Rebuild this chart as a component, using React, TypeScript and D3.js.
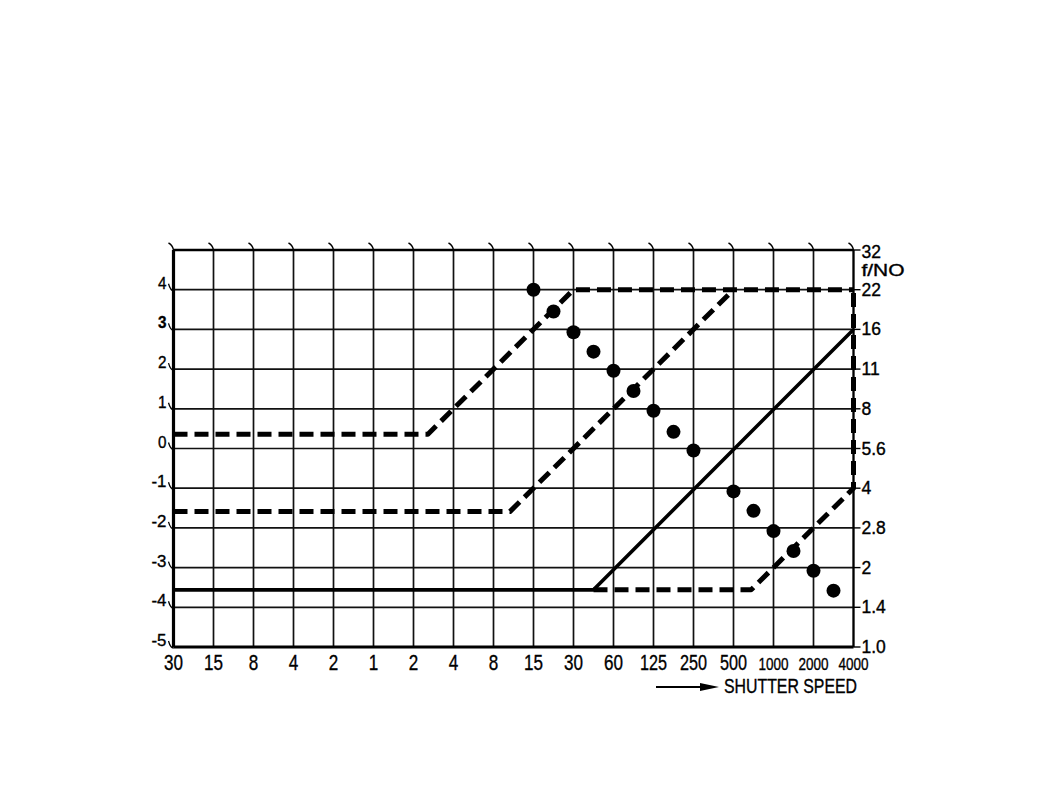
import React from "react";
import * as d3 from "d3";

// Shutter speed columns (seconds on the left, fractions on the right)
const shutterLabels = ["30", "15", "8", "4", "2", "1", "2", "4", "8", "15", "30", "60", "125", "250", "500", "1000", "2000", "4000"];
// Left axis: exposure value ticks
const evTicks = [4, 3, 2, 1, 0, -1, -2, -3, -4, -5];
// Right axis: f-numbers for EV levels 5 .. -5
const fNumberLevels = [5, 4, 3, 2, 1, 0, -1, -2, -3, -4, -5];
const fNumberLabels = ["32", "22", "16", "11", "8", "5.6", "4", "2.8", "2", "1.4", "1.0"];

// Program lines as [column index, EV]
const upperProgram: [number, number][] = [[0, 0.36], [6.36, 0.36], [10, 4], [17, 4]];
const middleProgram: [number, number][] = [[0, -1.59], [8.41, -1.59], [14, 4]];
const lowerProgram: [number, number][] = [[10.5, -3.56], [14.44, -3.56], [17, -1], [17, 4]];
const solidProgram: [number, number][] = [[0, -3.56], [10.5, -3.56], [17, 3]];

// Measured exposure points
const dotIndex = [9, 9.5, 10, 10.5, 11, 11.5, 12, 12.5, 13, 14, 14.5, 15, 15.5, 16, 16.5];
const dotEv = [4, 3.45, 2.93, 2.44, 1.96, 1.45, 0.95, 0.42, -0.05, -1.08, -1.57, -2.08, -2.58, -3.08, -3.58];

const FONT = "'Liberation Sans', Arial, Helvetica, sans-serif";

// Condensed label: squeezed to a fixed width
function Label(props: {
  x: number;
  y: number;
  width?: number;
  size: number;
  anchor?: "start" | "middle" | "end";
  weight?: string;
  children: string;
}) {
  const { x, y, width, size, anchor = "start", weight = "normal", children } = props;
  const fit = width ? { textLength: width, lengthAdjust: "spacingAndGlyphs" } : {};
  return (
    <text
      x={x}
      y={y}
      textAnchor={anchor}
      fontSize={size}
      fontWeight={weight}
      fontFamily={FONT}
      fill="#000"
      stroke="#000"
      strokeWidth={0.35}
      {...fit}
    >
      {children}
    </text>
  );
}

const bottomWidth = (s: string) => (s.length === 1 ? 9.5 : s.length === 2 ? 19 : s.length === 3 ? 27 : 30);

export default function App() {
  const x = d3.scaleLinear().domain([0, 17]).range([173.5, 853.5]);
  const y = d3.scaleLinear().domain([-5, 5]).range([647, 250]);
  const line = d3.line<[number, number]>().x((d) => x(d[0])).y((d) => y(d[1]));
  const cols = d3.range(0, 18);
  const rows = d3.range(-5, 6);
  const left = x(0), right = x(17), top = y(5), bottom = y(-5);

  return (
    <svg
      width={1054}
      height={793}
      viewBox="0 0 1054 793"
      style={{ position: "absolute", left: 0, top: 0, background: "#fff" }}
    >
      <rect width={1054} height={793} fill="#fff" />
      {/* grid */}
      <g stroke="#111" strokeWidth={1.7}>
        {cols.map((c) => (
          <line key={"v" + c} x1={x(c)} x2={x(c)} y1={top} y2={bottom} />
        ))}
        {rows.map((r) => (
          <line key={"h" + r} x1={left} x2={right} y1={y(r)} y2={y(r)} />
        ))}
      </g>
      {/* frame */}
      <g stroke="#000" fill="none">
        <line x1={left} x2={left} y1={top} y2={bottom} strokeWidth={3.2} />
        <line x1={left} x2={right} y1={top} y2={top} strokeWidth={2.6} />
        <line x1={left} x2={right} y1={bottom} y2={bottom} strokeWidth={2.8} />
        <line x1={right} x2={right} y1={top} y2={bottom} strokeWidth={2} />
      </g>
      {/* top tick hooks */}
      <g stroke="#000" strokeWidth={1.4} fill="none">
        {cols.map((c) => (
          <path key={"t" + c} d={`M${x(c) - 5},${top - 7} Q${x(c) - 1},${top - 5} ${x(c)},${top}`} />
        ))}
      </g>
      {/* left axis labels */}
      {evTicks.map((v) => (
        <g key={"l" + v}>
          <Label
            x={left - 7}
            y={y(v) - 1}
            width={v < 0 ? 15 : 8.5}
            size={17}
            anchor="end"
            weight={v === 3 ? "bold" : "normal"}
          >
            {v < 0 ? "-" + Math.abs(v) : String(v)}
          </Label>
          <path
            d={`M${left - 5},${y(v) - 6} Q${left - 3},${y(v) + 1} ${left},${y(v) + 1}`}
            stroke="#000"
            strokeWidth={1.3}
            fill="none"
          />
        </g>
      ))}
      {/* right axis: f-numbers */}
      {fNumberLevels.map((v, i) => (
        <g key={"r" + v}>
          <line x1={right} x2={right + 7} y1={y(v)} y2={y(v)} stroke="#000" strokeWidth={1.4} />
          <Label x={right + 8} y={y(v) + (i === 0 ? 8 : 6)} size={17.5}>
            {fNumberLabels[i]}
          </Label>
        </g>
      ))}
      <Label x={right + 8} y={276} size={16} width={43}>
        f/NO
      </Label>
      {/* bottom axis: shutter speeds */}
      {shutterLabels.map((s, i) => (
        <Label
          key={"b" + i}
          x={x(i)}
          y={bottom + 23}
          width={bottomWidth(s)}
          size={s.length === 4 ? 17 : 21.5}
          anchor="middle"
        >
          {s}
        </Label>
      ))}
      {/* axis title with arrow */}
      <g>
        <line x1={656} x2={704} y1={687} y2={687} stroke="#000" strokeWidth={2} />
        <path d="M700,683 L719,687 L700,691 Z" fill="#000" />
        <Label x={724} y={693} size={20} width={133}>
          SHUTTER SPEED
        </Label>
      </g>
      {/* program lines */}
      <g fill="none" stroke="#000" strokeLinecap="butt" strokeLinejoin="round">
        <path d={line(solidProgram) ?? ""} strokeWidth={3.6} />
        <path d={line(upperProgram) ?? ""} strokeWidth={5} strokeDasharray="14 7" />
        <path d={line(middleProgram) ?? ""} strokeWidth={5} strokeDasharray="14 7" />
        <path d={line(lowerProgram) ?? ""} strokeWidth={5} strokeDasharray="14 7" />
      </g>
      {/* exposure points */}
      <g fill="#000">
        {dotIndex.map((d, i) => (
          <circle key={"d" + i} cx={x(d)} cy={y(dotEv[i])} r={7} />
        ))}
      </g>
    </svg>
  );
}
